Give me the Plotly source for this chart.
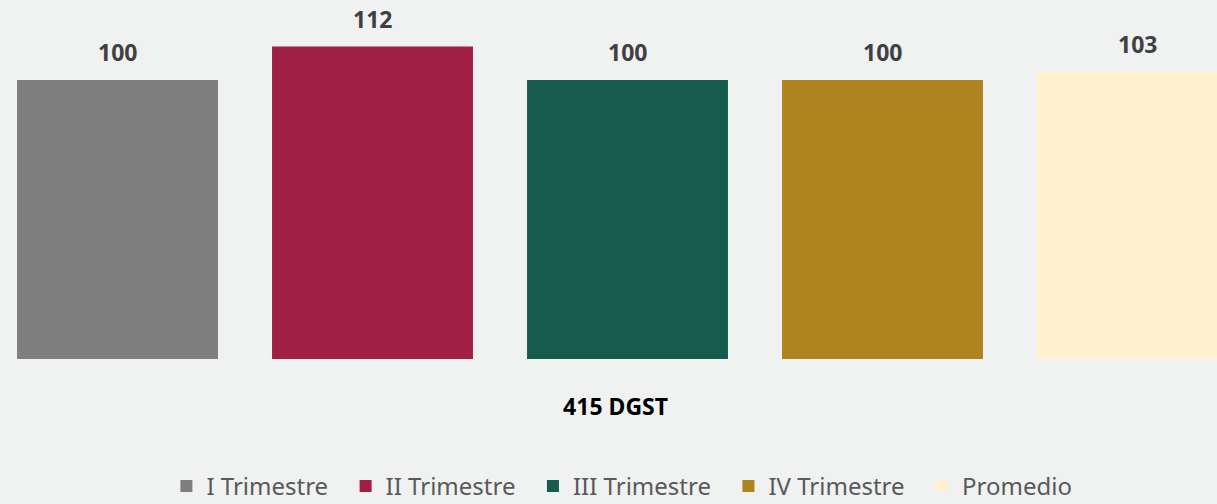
import plotly.graph_objects as go

category = ["415 DGST"]
series_names = ["I Trimestre", "II Trimestre", "III Trimestre", "IV Trimestre", "Promedio"]
series_values = [100, 112, 100, 100, 103]
series_colors = ["#7f7f7f", "#a01f43", "#175b4f", "#ad841f", "#fff1cf"]

FONT = "Noto Sans"
n = len(series_names)

fig = go.Figure()
for i, (name, val, col) in enumerate(zip(series_names, series_values, series_colors)):
    pad = "&nbsp;&nbsp;" if i < n - 1 else ""
    fig.add_trace(go.Bar(
        x=category, y=[val], name=name + pad,
        marker=dict(color=col, line=dict(width=0)),
        hovertemplate=name + ": %{y}<extra></extra>",
    ))

# value labels above each bar (positions derived from data index and value)
annotations = []
for i, val in enumerate(series_values):
    annotations.append(dict(
        x=-0.5 + (i + 0.5) / n, y=val, xref="x", yref="y",
        text=f"<b>{val}</b>", showarrow=False, yanchor="bottom",
        yshift=10, font=dict(family=FONT, size=23, color="#404040"),
    ))

fig.update_layout(
    width=1217, height=504,
    margin=dict(l=0, r=0, t=22, b=145, autoexpand=False),
    paper_bgcolor="#f0f1f1", plot_bgcolor="#f0f1f1",
    barmode="group", bargap=0, bargroupgap=0.212,
    font=dict(family=FONT),
    annotations=annotations,
    showlegend=True,
    legend=dict(
        orientation="h", x=0.511, xanchor="center",
        yref="paper", y=-0.3115, yanchor="top",
        font=dict(family=FONT, size=24, color="#595959"),
        itemwidth=30, traceorder="normal",
        bgcolor="rgba(0,0,0,0)",
    ),
    xaxis=dict(
        type="category", range=[-0.49216, 0.46235],
        showgrid=False, zeroline=False, showline=False,
        ticks="", ticklabelstandoff=32,
        tickfont=dict(family=FONT, size=23, color="#000000"),
        tickprefix="<b>", ticksuffix="</b>&nbsp;&nbsp;&nbsp;&nbsp;",
    ),
    yaxis=dict(
        range=[0, 120.8], showgrid=False, zeroline=False,
        showline=False, showticklabels=False,
    ),
)

fig.write_html(
    "out.html",
    config={"displayModeBar": False},
    post_script="document.body.style.margin='0';document.body.style.overflow='hidden';",
)
